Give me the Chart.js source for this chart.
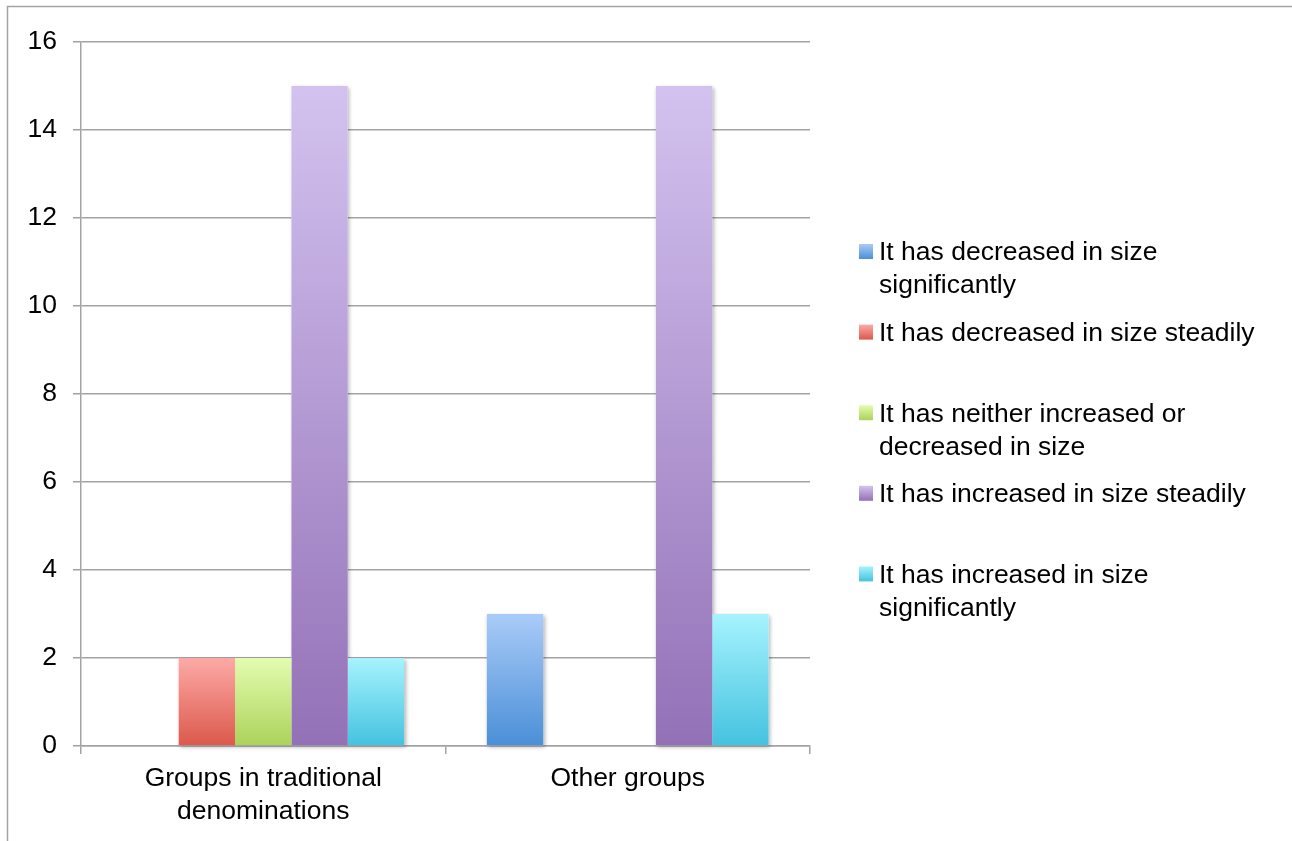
<!DOCTYPE html>
<html>
<head>
<meta charset="utf-8">
<script src="https://cdn.jsdelivr.net/npm/chart.js@4/dist/chart.umd.min.js"></script>
<style>
	html, body { margin: 0; padding: 0; background: #fff; }
	#wrap { position: relative; width: 1292px; height: 841px; }
</style>
</head>
<body>
<div id="wrap"><canvas id="chart"></canvas></div>
<script>

// categories on the x axis (multi-line labels)
const categories = [['Groups in traditional', 'denominations'], 'Other groups'];

// legend / series names
const seriesNames = [
	'It has decreased in size significantly',
	'It has decreased in size steadily',
	'It has neither increased or decreased in size',
	'It has increased in size steadily',
	'It has increased in size significantly'
];

// series values, one per category
const decreasedSignificantly = [0, 3];
const decreasedSteadily = [2, 0];
const neitherIncreasedOrDecreased = [2, 0];
const increasedSteadily = [15, 15];
const increasedSignificantly = [2, 3];

// y axis ticks
const yMin = 0;
const yMax = 16;
const yStep = 2;

// gradient colours, top (light) and bottom (dark)
const topColors = ['#aacbf8', '#fdaaa7', '#e3fdb0', '#d3c2ef', '#a6f3fe'];
const bottomColors = ['#4a8fd7', '#dc584b', '#acd25a', '#9371b7', '#44c2df'];

const FONT = '"Liberation Sans", Arial, Helvetica, sans-serif';
const FONT_SIZE = 26.5;
const GRID = '#a3a3a3';

const seriesValues = [
	decreasedSignificantly,
	decreasedSteadily,
	neitherIncreasedOrDecreased,
	increasedSteadily,
	increasedSignificantly
];


function barGradient(i)
{
	return function(ctx)
	{
		const chart = ctx.chart;
		if (!chart.chartArea || ctx.type !== 'data') return bottomColors[i];
		const y = chart.scales.y;
		const top = y.getPixelForValue(ctx.raw);
		const base = y.getPixelForValue(0);
		if (Math.abs(base - top) < 1) return bottomColors[i];
		const g = chart.ctx.createLinearGradient(0, top, 0, base);
		g.addColorStop(0, topColors[i]);
		g.addColorStop(1, bottomColors[i]);
		return g;
	};
}


// wrap text into lines no wider than maxWidth
function wrapText(ctx, text, maxWidth)
{
	const words = text.split(' ');
	const lines = [];
	let line = '';
	words.forEach(w => {
		const test = line ? line + ' ' + w : w;
		if (ctx.measureText(test).width > maxWidth && line) {
			lines.push(line);
			line = w;
		} else {
			line = test;
		}
	});
	if (line) lines.push(line);
	return lines;
}


const framePlugin = {
	id: 'frame',
	beforeDraw(chart)
	{
		const c = chart.ctx;
		c.save();
		c.strokeStyle = GRID;
		c.lineWidth = 1.5;
		c.strokeRect(7.5, 6.5, 1400, 1000);
		c.restore();
	}
};


// soft shadow behind each bar, drawn before the bars
const shadowPlugin = {
	id: 'barShadow',
	beforeDatasetsDraw(chart)
	{
		const c = chart.ctx;
		c.save();
		c.shadowColor = 'rgba(0,0,0,0.30)';
		c.shadowBlur = 4;
		c.shadowOffsetX = 1.5;
		c.shadowOffsetY = 1.5;
		c.fillStyle = '#ffffff';
		chart.data.datasets.forEach((ds, i) => {
			chart.getDatasetMeta(i).data.forEach(el => {
				const p = el.getProps(['x', 'y', 'base', 'width'], true);
				const h = p.base - p.y;
				if (h < 1) return;
				c.fillRect(p.x - p.width / 2, p.y, p.width, h);
			});
		});
		c.restore();
	}
};


// legend on the right with wrapped labels
const legendPlugin = {
	id: 'sideLegend',
	afterDraw(chart)
	{
		const c = chart.ctx;
		const boxX = 859;
		const textX = 879;
		const firstY = 253;
		const itemStep = 80.6;
		const lineH = 33;
		const box = 14;
		c.save();
		c.font = FONT_SIZE + 'px ' + FONT;
		c.fillStyle = '#000';
		c.textBaseline = 'middle';
		c.textAlign = 'left';
		chart.data.datasets.forEach((ds, i) => {
			const cy = firstY + i * itemStep;
			const g = c.createLinearGradient(0, cy - 9, 0, cy + 6);
			g.addColorStop(0, topColors[i]);
			g.addColorStop(1, bottomColors[i]);
			c.fillStyle = g;
			c.fillRect(boxX, cy - 9, box, box + 1);
			c.fillStyle = '#000';
			wrapText(c, ds.label, 400).forEach((ln, k) => {
				c.fillText(ln, textX, cy + k * lineH);
			});
		});
		c.restore();
	}
};


new Chart(document.getElementById('chart'), {
	type: 'bar',
	data: {
		labels: categories,
		datasets: seriesValues.map((vals, i) => ({
			label: seriesNames[i],
			data: vals,
			backgroundColor: barGradient(i),
			borderWidth: 0,
			categoryPercentage: 0.773,
			barPercentage: 1.0
		}))
	},
	options: {
		responsive: true,
		maintainAspectRatio: false,
		animation: false,
		devicePixelRatio: 1,
		layout: {
			padding: { top: 42, right: 482, left: 0, bottom: 0 }
		},
		plugins: {
			legend: { display: false },
			tooltip: { enabled: false },
			title: { display: false }
		},
		scales: {
			x: {
				offset: true,
				grid: {
					display: true,
					offset: true,
					drawOnChartArea: false,
					drawTicks: true,
					tickLength: 8,
					color: GRID,
					lineWidth: 1.5
				},
				border: { display: true, color: GRID, width: 1.5 },
				ticks: {
					color: '#000',
					padding: 9,
					maxRotation: 0,
					autoSkip: false,
					font: { family: FONT, size: FONT_SIZE, lineHeight: 1.22 }
				},
				afterFit(scale) { scale.height = 95; }
			},
			y: {
				min: yMin,
				max: yMax,
				grid: {
					color: GRID,
					lineWidth: 1.5,
					drawTicks: true,
					tickLength: 8
				},
				border: { display: true, color: GRID, width: 1.5 },
				ticks: {
					stepSize: yStep,
					color: '#000',
					padding: 16,
					font: { family: FONT, size: FONT_SIZE }
				},
				afterFit(scale) { scale.width = 81; }
			}
		}
	},
	plugins: [framePlugin, shadowPlugin, legendPlugin]
});

</script>
</body>
</html>
